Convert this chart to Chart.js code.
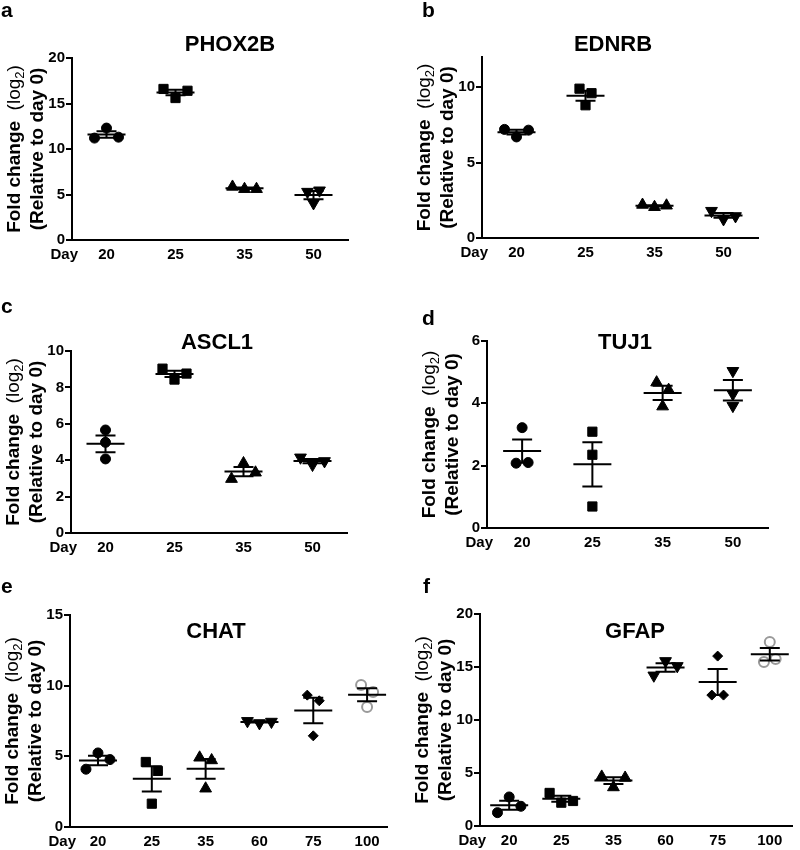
<!DOCTYPE html>
<html>
<head>
<meta charset="utf-8">
<title>Marker expression by day</title>
<script src="https://cdn.jsdelivr.net/npm/chart.js@4.4.0/dist/chart.umd.min.js"></script>
<style>
  body { margin: 0; background: #fff; }
  #fig { position: relative; width: 800px; height: 850px; }
  #fig canvas { position: absolute; }
</style>
</head>
<body>
<div id="fig"></div>
<script>
// Fold change (log2, relative to day 0), three replicates per day
const DAYS_4 = ['20', '25', '35', '50'];
const DAYS_6 = ['20', '25', '35', '60', '75', '100'];

const PHOX2B = [[11.2, 12.3, 11.3], [16.6, 15.6, 16.4], [5.85, 5.6, 5.6], [5.3, 5.45, 4.05]];
const EDNRB = [[7.2, 6.7, 7.15], [9.9, 8.8, 9.6], [2.2, 2.05, 2.15], [1.8, 1.25, 1.45]];
const ASCL1 = [[5.66, 4.98, 4.07], [9.03, 8.43, 8.76], [2.97, 3.83, 3.32], [4.15, 3.75, 3.95]];
const TUJ1 = [[3.22, 2.08, 2.1], [3.09, 2.35, 0.69], [4.67, 3.9, 4.43], [5.04, 3.92, 4.3]];
const CHAT = [[4.09, 5.24, 4.77], [4.6, 1.65, 3.97], [4.91, 2.72, 4.72], [7.5, 7.35, 7.45], [9.33, 6.45, 8.93], [10.05, 8.49, 9.55]];
const GFAP = [[1.26, 2.74, 1.86], [3.12, 2.2, 2.36], [4.65, 3.65, 4.55], [14.2, 15.56, 15.09], [12.35, 16.03, 12.35], [15.47, 17.36, 15.75]];

const FONT = "'Liberation Sans', Arial, Helvetica, sans-serif";

// marker per day (same order in every panel)
const SHAPES = [
  { style: 'circle', radius: 5, rotation: 0, fill: '#000', stroke: '#000', width: 1 },
  { style: 'rect', radius: 6.5, rotation: 0, fill: '#000', stroke: '#000', width: 1 },
  { style: 'triangle', radius: 6.8, rotation: 0, fill: '#000', stroke: '#000', width: 1 },
  { style: 'triangle', radius: 6.8, rotation: 180, fill: '#000', stroke: '#000', width: 1 },
  { style: 'rectRot', radius: 5, rotation: 0, fill: '#000', stroke: '#000', width: 1 },
  { style: 'circle', radius: 5, rotation: 0, fill: '#fff', stroke: '#9a9a9a', width: 2 }
];

const PANELS = [
  { letter: 'a', title: 'PHOX2B', days: DAYS_4, values: PHOX2B, yMax: 20, yStep: 5,
    box: [0, 0, 400, 280], area: [72, 58, 348, 240], xRange: [-0.5, 3.5], titleAt: [230, 45], letterAt: [1, 17] },
  { letter: 'b', title: 'EDNRB', days: DAYS_4, values: EDNRB, yMax: 12, yStep: 5,
    box: [400, 0, 400, 280], area: [82, 57, 358, 238], xRange: [-0.5, 3.5], titleAt: [213, 45], letterAt: [22, 17] },
  { letter: 'c', title: 'ASCL1', days: DAYS_4, values: ASCL1, yMax: 10, yStep: 2,
    box: [0, 280, 400, 280], area: [71, 71, 347, 253], xRange: [-0.5, 3.5], titleAt: [217, 63], letterAt: [1, 33] },
  { letter: 'd', title: 'TUJ1', days: DAYS_4, values: TUJ1, yMax: 6, yStep: 2,
    box: [400, 280, 400, 280], area: [87, 61, 368, 248], xRange: [-0.5, 3.5], titleAt: [225, 63], letterAt: [22, 45] },
  { letter: 'e', title: 'CHAT', days: DAYS_6, values: CHAT, yMax: 15, yStep: 5,
    box: [0, 560, 400, 290], area: [70, 55, 387, 267], xRange: [-0.52, 5.37], titleAt: [216, 72], letterAt: [1, 33] },
  { letter: 'f', title: 'GFAP', days: DAYS_6, values: GFAP, yMax: 20, yStep: 5,
    box: [400, 560, 400, 290], area: [80, 54, 400, 266], xRange: [-0.56, 5.43], titleAt: [235, 72], letterAt: [23, 33] }
];

// spread replicates that would overlap (values closer than gapPx on screen)
function spread(vals, pxPerUnit, gapPx) {
  const order = vals.map((v, i) => i).sort((p, q) => vals[p] - vals[q]);
  const offs = vals.map(() => 0);
  let group = [order[0]];
  const flush = () => {
    const g = group.slice().sort((p, q) => p - q);
    g.forEach((idx, k) => { offs[idx] = k - (g.length - 1) / 2; });
  };
  for (let k = 1; k < order.length; k++) {
    if ((vals[order[k]] - vals[order[k - 1]]) * pxPerUnit < gapPx) group.push(order[k]);
    else { flush(); group = [order[k]]; }
  }
  flush();
  return offs;
}

// mean line + SEM whiskers
const meanSem = {
  id: 'meanSem',
  afterDatasetsDraw(chart) {
    const { ctx, scales: { x, y } } = chart;
    ctx.save();
    ctx.strokeStyle = '#000';
    ctx.lineWidth = 2;
    chart.data.datasets.forEach(ds => {
      const ys = ds.data.map(p => p.y);
      const n = ys.length;
      const m = ys.reduce((s, v) => s + v, 0) / n;
      const sd = Math.sqrt(ys.reduce((s, v) => s + (v - m) ** 2, 0) / (n - 1));
      const se = sd / Math.sqrt(n);
      const cx = x.getPixelForValue(ds.center);
      const hLine = (v, hw) => {
        const py = y.getPixelForValue(v);
        ctx.moveTo(cx - hw, py); ctx.lineTo(cx + hw, py);
      };
      ctx.beginPath();
      hLine(m, 19);
      hLine(m + se, 10);
      hLine(m - se, 10);
      ctx.moveTo(cx, y.getPixelForValue(m + se));
      ctx.lineTo(cx, y.getPixelForValue(m - se));
      ctx.stroke();
    });
    ctx.restore();
  }
};

// panel letter, gene title, y title, "Day"
const panelText = {
  id: 'panelText',
  afterDraw(chart, args, o) {
    const { ctx, chartArea: a } = chart;
    ctx.save();
    ctx.fillStyle = '#000';

    ctx.font = 'bold 21px ' + FONT;
    ctx.textAlign = 'left';
    ctx.textBaseline = 'alphabetic';
    ctx.fillText(o.letter, o.letterAt[0], o.letterAt[1]);

    ctx.font = 'bold 22px ' + FONT;
    ctx.textAlign = 'center';
    ctx.textBaseline = 'middle';
    ctx.fillText(o.title, o.titleAt[0], o.titleAt[1]);

    ctx.font = 'bold 15px ' + FONT;
    ctx.textAlign = 'right';
    ctx.fillText('Day', a.left + 6, a.bottom + 15);

    // rotated two-line y title
    const midY = (a.top + a.bottom) / 2;
    ctx.translate(a.left - 57, midY);
    ctx.rotate(-Math.PI / 2);
    const parts = [
      { t: 'Fold change  ', f: 'bold 19px ' + FONT, dy: 0 },
      { t: '(log', f: '19px ' + FONT, dy: 0 },
      { t: '2', f: '13px ' + FONT, dy: 5 },
      { t: ')', f: '19px ' + FONT, dy: 0 }
    ];
    let total = 0;
    parts.forEach(p => { ctx.font = p.f; p.w = ctx.measureText(p.t).width; total += p.w; });
    let px = -total / 2;
    ctx.textAlign = 'left';
    parts.forEach(p => { ctx.font = p.f; ctx.fillText(p.t, px, p.dy); px += p.w; });

    ctx.font = 'bold 19px ' + FONT;
    ctx.textAlign = 'center';
    ctx.fillText('(Relative to day 0)', 0, 23);
    ctx.restore();
  }
};

const fig = document.getElementById('fig');

PANELS.forEach(p => {
  const [bx, by, bw, bh] = p.box;
  const [L, T, R, B] = p.area;
  const canvas = document.createElement('canvas');
  canvas.width = bw;
  canvas.height = bh;
  canvas.style.left = bx + 'px';
  canvas.style.top = by + 'px';
  fig.appendChild(canvas);

  const yAxisW = 30, xAxisH = 26;
  const pxPerUnitY = (B - T) / p.yMax;
  const stepX = 12 / ((R - L) / (p.xRange[1] - p.xRange[0]));

  const datasets = p.values.map((vals, i) => {
    const s = SHAPES[i];
    const offs = spread(vals, pxPerUnitY, 10);
    return {
      label: 'Day ' + p.days[i],
      center: i,
      data: vals.map((v, j) => ({ x: i + offs[j] * stepX, y: v })),
      pointStyle: s.style,
      pointRadius: s.radius,
      pointHoverRadius: s.radius,
      pointRotation: s.rotation,
      pointBackgroundColor: s.fill,
      pointBorderColor: s.stroke,
      pointBorderWidth: s.width,
      showLine: false
    };
  });

  new Chart(canvas, {
    type: 'scatter',
    data: { datasets },
    plugins: [meanSem, panelText],
    options: {
      responsive: false,
      animation: false,
      events: [],
      layout: { padding: { left: L - yAxisW, top: T, right: bw - R, bottom: bh - B - xAxisH } },
      plugins: {
        legend: { display: false },
        tooltip: { enabled: false },
        panelText: { letter: p.letter, title: p.title, titleAt: p.titleAt, letterAt: p.letterAt }
      },
      scales: {
        x: {
          type: 'linear',
          min: p.xRange[0],
          max: p.xRange[1],
          afterBuildTicks: sc => { sc.ticks = p.days.map((d, i) => ({ value: i })); },
          afterFit: sc => { sc.height = xAxisH; },
          ticks: {
            callback: v => p.days[v],
            color: '#000',
            font: { family: FONT, size: 15, weight: 'bold' },
            padding: 6,
            maxRotation: 0,
            autoSkip: false
          },
          grid: { display: false, drawTicks: false },
          border: { display: true, color: '#000', width: 2 }
        },
        y: {
          min: 0,
          max: p.yMax,
          afterBuildTicks: sc => { sc.ticks = sc.ticks.filter(t => t.value % p.yStep === 0); },
          afterFit: sc => { sc.width = yAxisW; },
          ticks: {
            stepSize: p.yStep,
            color: '#000',
            font: { family: FONT, size: 15, weight: 'bold' },
            padding: 1
          },
          grid: { display: true, drawOnChartArea: false, drawTicks: true, tickLength: 6, color: '#000', lineWidth: 2 },
          border: { display: true, color: '#000', width: 2 }
        }
      }
    }
  });
});
</script>
</body>
</html>
